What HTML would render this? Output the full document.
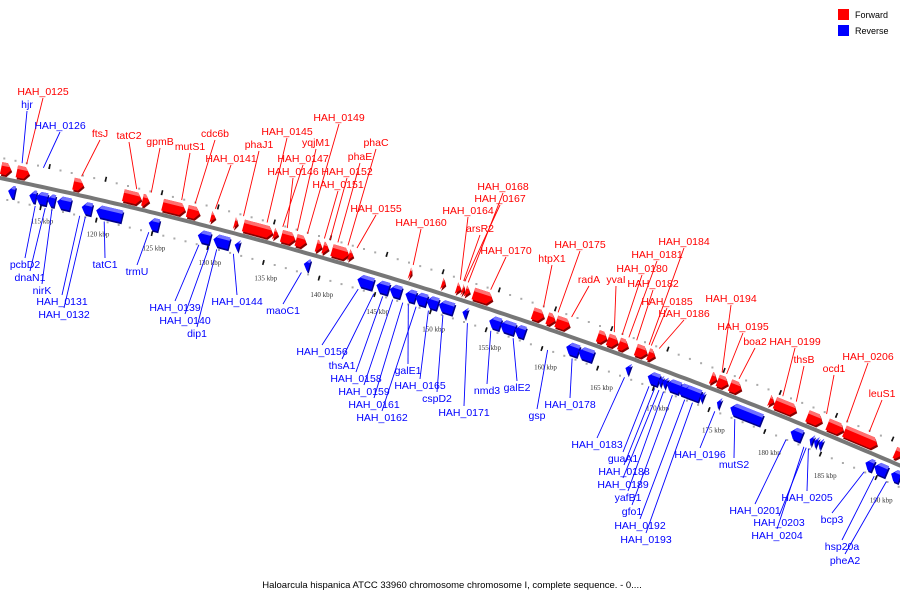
<!DOCTYPE html>
<html><head><meta charset="utf-8">
<style>
html,body{margin:0;padding:0;background:#fff;}
svg{display:block;font-family:"Liberation Sans",sans-serif;}
</style></head>
<body>
<svg id="chart" width="900" height="600" viewBox="0 0 900 600" xmlns="http://www.w3.org/2000/svg">
  <rect x="0" y="0" width="900" height="600" fill="#fff"/>
  <g id="legend">
    <rect x="838" y="9" width="11" height="11" fill="#ff0000"/>
    <text x="855" y="18" font-size="9" fill="#000">Forward</text>
    <rect x="838" y="25" width="11" height="11" fill="#0000ff"/>
    <text x="855" y="34" font-size="9" fill="#000">Reverse</text>
  </g>
  <g id="dots"></g>
  <g id="backbone"></g>
  <g id="genes"></g>
  <g id="leaders"></g>
  <g id="labels"></g>
  <text x="452" y="588" font-size="9.5" text-anchor="middle" fill="#000">Haloarcula hispanica ATCC 33960 chromosome chromosome I, complete sequence. - 0....</text>
</svg>
<script>
// ---- data (kbp) ----
const forwardStarts=[110.9,112.3,117.35,121.8,123.5,125.3,127.5,129.6,131.7,132.5,135.2,135.9,137.2,139.0,139.6,140.4,141.9,147.3,150.2,151.5,152.0,152.3,153.0,158.3,159.6,160.4,164.1,165.0,166.0,167.5,168.6,174.2,174.8,175.9,179.4,179.9,182.8,184.6,186.1,190.6];
const forwardEnds=[111.8,113.4,118.25,123.4,124.1,127.3,128.6,130.0,132.0,135.1,135.6,137.1,138.1,139.5,140.1,141.9,142.3,147.5,150.5,151.9,152.2,152.7,154.7,159.3,160.3,161.6,164.9,165.9,166.8,168.5,169.2,174.7,175.7,176.9,179.8,181.8,184.1,186.0,189.0,191.2];
const reverseStarts=[111.9,113.8,114.4,115.4,116.3,118.5,119.8,124.5,128.9,130.3,132.2,138.4,143.2,144.9,146.1,147.5,148.4,149.4,150.5,152.6,155.0,156.0,157.3,161.9,163.0,167.2,169.2,170.2,170.5,170.9,171.9,172.4,173.9,175.4,176.6,182.0,183.7,184.1,184.5,188.7,189.5,191.0];
const reverseEnds=[112.5,114.4,115.4,116.1,117.5,119.4,122.1,125.4,130.0,131.7,132.6,138.9,144.6,146.0,147.1,148.4,149.4,150.4,151.8,153.0,156.0,157.3,158.2,163.0,164.3,167.6,170.2,170.5,170.9,172.1,173.2,173.9,174.2,175.7,179.4,183.0,184.0,184.4,184.8,189.4,190.6,191.8];
const tickKbp=[115,120,125,130,135,140,145,150,155,160,165,170,175,180,185,190];
const tickLabels=["115 kbp","120 kbp","125 kbp","130 kbp","135 kbp","140 kbp","145 kbp","150 kbp","155 kbp","160 kbp","165 kbp","170 kbp","175 kbp","180 kbp","185 kbp","190 kbp"];
const labelNames=["HAH_0125","ftsJ","tatC2","gpmB","mutS1","cdc6b","HAH_0141","phaJ1","HAH_0145","HAH_0147","HAH_0146","HAH_0149","yqjM1","HAH_0152","HAH_0151","phaC","phaE","HAH_0155","HAH_0160","HAH_0168","HAH_0167","HAH_0164","arsR2","HAH_0170","htpX1","HAH_0175","radA","yvaI","HAH_0180","HAH_0181","HAH_0182","HAH_0184","HAH_0185","HAH_0186","HAH_0194","HAH_0195","boa2","HAH_0199","thsB","HAH_0206","ocd1","leuS1",
"hjr","HAH_0126","pcbD2","dnaN1","nirK","HAH_0131","HAH_0132","tatC1","trmU","HAH_0139","HAH_0140","dip1","HAH_0144","maoC1","HAH_0156","thsA1","HAH_0158","HAH_0159","galE1","HAH_0165","HAH_0161","HAH_0162","cspD2","HAH_0171","nmd3","galE2","gsp","HAH_0178","HAH_0183","guaA1","HAH_0188","HAH_0189","yafB1","gfo1","HAH_0192","HAH_0193","HAH_0196","mutS2","HAH_0201","HAH_0205","HAH_0203","HAH_0204","bcp3","hsp20a","pheA2"];
const labelStrand=["F","F","F","F","F","F","F","F","F","F","F","F","F","F","F","F","F","F","F","F","F","F","F","F","F","F","F","F","F","F","F","F","F","F","F","F","F","F","F","F","F","F",
"R","R","R","R","R","R","R","R","R","R","R","R","R","R","R","R","R","R","R","R","R","R","R","R","R","R","R","R","R","R","R","R","R","R","R","R","R","R","R","R","R","R","R","R","R"];
const labelTargetKbp=[113.0,117.9,122.8,124.1,126.8,128.0,129.8,132.3,134.4,135.8,136.2,138.0,137.1,140.0,139.5,141.6,140.7,142.4,147.4,152.3,152.0,151.6,151.9,154.3,159.0,160.3,161.5,165.3,166.0,166.6,167.3,168.4,168.6,169.3,174.9,175.3,176.4,180.3,181.5,186.0,184.2,188.0,
112.6,114.5,114.5,115.4,116.0,118.5,119.0,120.7,124.7,129.2,130.1,130.8,132.3,138.4,143.5,144.9,145.7,146.6,148.0,149.8,147.5,148.7,151.1,153.3,155.4,157.4,160.5,162.7,167.4,169.6,170.1,170.5,170.9,171.7,172.8,173.5,175.5,177.3,181.9,183.9,183.7,183.5,188.9,189.8,190.9];
// label layout (text centre x, baseline y)
const labelX=[43,100,129,160,190,215,231,259,287,303,293,339,316,347,338,376,360,376,421,503,500,468,480,506,552,580,589,616,642,657,653,684,667,684,731,743,755,795,804,868,834,882,
27,60,25,30,42,62,64,105,137,175,185,197,237,283,322,342,356,364,408,420,374,382,437,464,487,517,537,570,597,623,624,623,628,632,640,646,700,734,755,807,779,777,832,842,845];
const labelY=[95,137,139,145,150,137,162,148,135,162,175,121,146,175,188,146,160,212,226,190,202,214,232,254,262,248,283,283,272,258,287,245,305,317,302,330,345,345,363,360,372,397,
108,129,268,281,294,305,318,268,275,311,324,337,305,314,355,369,382,395,374,389,408,421,402,416,394,391,419,408,448,462,475,488,501,515,529,543,458,468,514,501,526,539,523,550,564];

// ---- geometry ----
const S=11.19, K0=115, X0=45;
function xl(k){return (k-K0)*S+X0;}
function yl(x){return 178+0.207*x+0.000125*x*x;}
function P(k,off){const x=xl(k);const d=0.207+0.00025*x;const L=Math.sqrt(1+d*d);return [x+(-d/L)*off, yl(x)+(1/L)*off];}
function pts(a){return a.map(p=>p[0].toFixed(1)+','+p[1].toFixed(1)).join(' ');}
const NS='http://www.w3.org/2000/svg';
function mk(tag,parent){const e=document.createElementNS(NS,tag);parent.appendChild(e);return e;}

// backbone
const bb=document.getElementById('backbone');
let d='';for(let x=-5;x<=905;x+=5){d+=(x===-5?'M':'L')+x+','+yl(x).toFixed(1);}
const bl=mk('path',bb);


bl.setAttribute('d',d);bl.setAttribute('stroke','#777');bl.setAttribute('stroke-width','4');bl.setAttribute('fill','none');

// dots and ticks
const dg=document.getElementById('dots');
for(let k=111;k<=193;k++){
  [-20,20].forEach(o=>{const p=P(k,o);const c=mk('rect',dg);
    
    
    c.setAttribute('x',(p[0]-1).toFixed(1));c.setAttribute('y',(p[1]-1).toFixed(1));c.setAttribute('width','2');c.setAttribute('height','2');c.setAttribute('fill','#aaa');});
}
tickKbp.forEach((k,i)=>{
  [[-24,-19],[18,23]].forEach(r=>{const a=P(k,r[0]),b=P(k,r[1]);const t=mk('line',dg);
    
    
    t.setAttribute('x1',a[0]);t.setAttribute('y1',a[1]);t.setAttribute('x2',b[0]);t.setAttribute('y2',b[1]);t.setAttribute('stroke','#111');t.setAttribute('stroke-width','1.6');});
  const x=xl(k)-3;const tx=mk('text',dg);
  
  
  tx.setAttribute('x',x);tx.setAttribute('y',(yl(x)+36+9*x/900).toFixed(1));tx.setAttribute('font-size','7');
  tx.setAttribute('font-family','"Liberation Serif",serif');tx.setAttribute('text-anchor','middle');tx.setAttribute('fill','#333');tx.textContent=tickLabels[i];
});

// genes
const gg=document.getElementById('genes');
function gene(k0,k1,fwd){
  const h=Math.min(0.4,k1-k0);
  const top=fwd?-16:5, bot=fwd?-4:17, mid=(top+bot)/2;
  let main,hi;
  if(fwd){
    main=[P(k0,top),P(k1-h,top),P(k1,mid),P(k1-h,bot),P(k0,bot)];
    hi=[P(k0,top),P(k1-h,top),P(k1-h*0.4,top+3.5),P(k0,top+3.5)];
  }else{
    main=[P(k1,top),P(k0+h,top),P(k0,mid),P(k0+h,bot),P(k1,bot)];
    hi=[P(k1,top),P(k0+h,top),P(k0+h*0.6,top+3.5),P(k1,top+3.5)];
  }
  const sh=main.map(p=>[p[0]+1,p[1]+2]);
  const g=mk('g',gg);
  
  
  const s=mk('polygon',g);s.setAttribute('points',pts(sh));s.setAttribute('fill',fwd?'#880000':'#000088');
  const m=mk('polygon',g);m.setAttribute('points',pts(main));m.setAttribute('fill',fwd?'#ff0000':'#0000ff');
  const t=mk('polygon',g);t.setAttribute('points',pts(hi));t.setAttribute('fill',fwd?'#ff7070':'#7070ff');
}
forwardStarts.forEach((s,i)=>gene(s,forwardEnds[i],true));
reverseStarts.forEach((s,i)=>gene(s,reverseEnds[i],false));

// labels
const lg=document.getElementById('labels'), ld=document.getElementById('leaders');
labelNames.forEach((n,i)=>{
  const col=labelStrand[i]==='F'?'#ff0000':'#0000ff';
  const lx=labelX[i], ly=labelY[i];
  const kx=xl(labelTargetKbp[i]);
  const above=ly<yl(kx);
  const end=P(labelTargetKbp[i],above?-19:20);
  const ln=mk('line',ld);
  
  
  ln.setAttribute('x1',lx);ln.setAttribute('y1',above?ly+3:ly-10);
  ln.setAttribute('x2',end[0].toFixed(1));ln.setAttribute('y2',end[1].toFixed(1));
  ln.setAttribute('stroke',col);ln.setAttribute('stroke-width','0.9');
  const t=mk('text',lg);
  
  
  t.setAttribute('x',lx);t.setAttribute('y',ly);t.setAttribute('font-size','10.5');t.setAttribute('text-anchor','middle');t.setAttribute('fill',col);
  t.textContent=n;
});
</script>
</body></html>
